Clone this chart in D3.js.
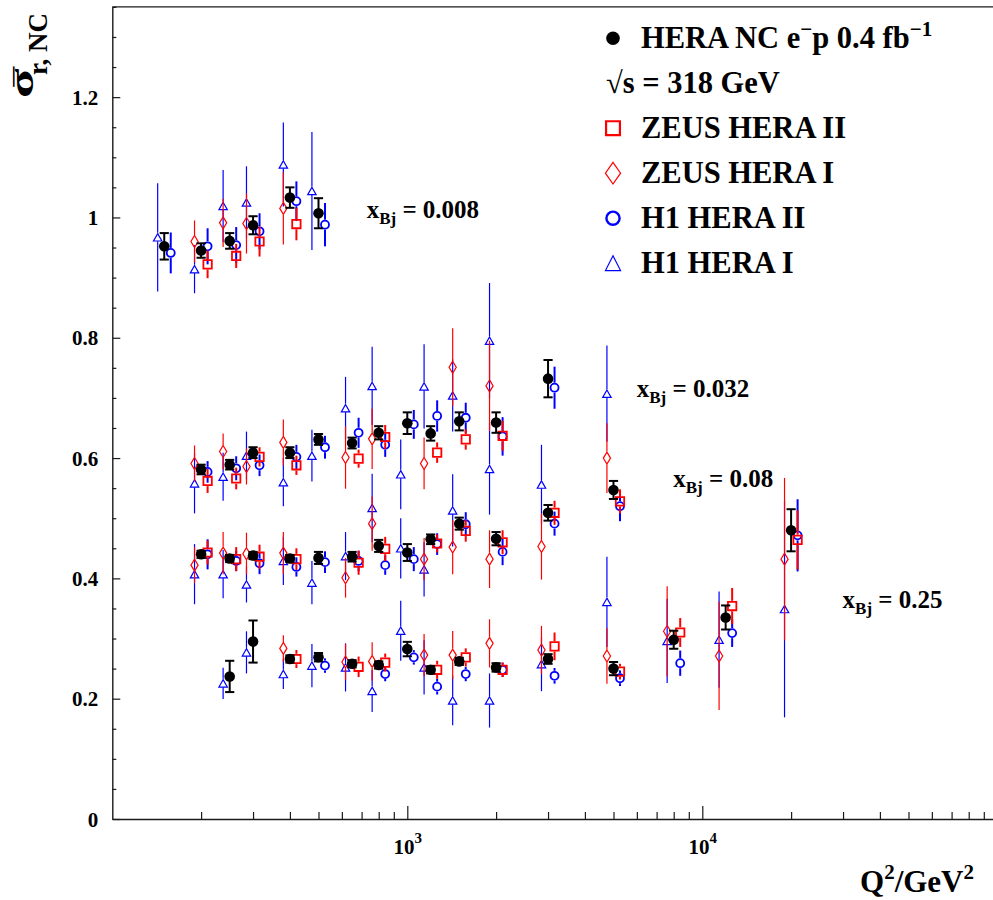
<!DOCTYPE html>
<html>
<head>
<meta charset="utf-8">
<script src="https://cdn.jsdelivr.net/npm/d3@7"></script>
<style>
  html, body { margin: 0; padding: 0; background: #fff; }
  svg { display: block; }
</style>
</head>
<body>
<svg id="chart" width="993" height="900"></svg>
<script>
// ---- data -------------------------------------------------------------
// Bjorken-x bins and the (Q², σ) anchor where each bin label is written
const xBjLabels = ["0.008", "0.032", "0.08", "0.25"];
const labelQ2 = [728, 5990, 7970, 29900];
const labelSigma = [0.999, 0.702, 0.5525, 0.350];

// rows: [xBj, Q² (GeV²), σ_r, δσ_r]
const heraCombined = [
  [0.008, 150, 0.952, 0.022], [0.008, 200, 0.945, 0.012], [0.008, 250, 0.961, 0.013],
  [0.008, 300, 0.987, 0.015], [0.008, 400, 1.033, 0.017], [0.008, 500, 1.007, 0.025],
  [0.032, 200, 0.581, 0.008], [0.032, 250, 0.589, 0.008], [0.032, 300, 0.609, 0.009],
  [0.032, 400, 0.609, 0.009], [0.032, 500, 0.631, 0.009], [0.032, 650, 0.625, 0.009],
  [0.032, 800, 0.642, 0.011], [0.032, 1000, 0.658, 0.018], [0.032, 1200, 0.641, 0.012],
  [0.032, 1500, 0.661, 0.015], [0.032, 2000, 0.659, 0.017], [0.032, 3000, 0.732, 0.031],
  [0.08, 200, 0.440, 0.006], [0.08, 250, 0.433, 0.006], [0.08, 300, 0.438, 0.006],
  [0.08, 400, 0.433, 0.006], [0.08, 500, 0.434, 0.010], [0.08, 650, 0.436, 0.008],
  [0.08, 800, 0.454, 0.010], [0.08, 1000, 0.443, 0.014], [0.08, 1200, 0.465, 0.008],
  [0.08, 1500, 0.491, 0.010], [0.08, 2000, 0.466, 0.011], [0.08, 3000, 0.509, 0.013],
  [0.08, 5000, 0.547, 0.015],
  [0.25, 250, 0.237, 0.026], [0.25, 300, 0.295, 0.035], [0.25, 400, 0.266, 0.006],
  [0.25, 500, 0.269, 0.007], [0.25, 650, 0.258, 0.006], [0.25, 800, 0.256, 0.006],
  [0.25, 1000, 0.2825, 0.012], [0.25, 1200, 0.248, 0.006], [0.25, 1500, 0.262, 0.006],
  [0.25, 2000, 0.252, 0.007], [0.25, 3000, 0.266, 0.008], [0.25, 5000, 0.250, 0.011],
  [0.25, 8000, 0.298, 0.015], [0.25, 12000, 0.335, 0.020], [0.25, 20000, 0.480, 0.035]
];

const zeusHera2 = [
  [0.008, 200, 0.922, 0.023], [0.008, 250, 0.936, 0.020], [0.008, 300, 0.960, 0.025],
  [0.008, 400, 0.989, 0.027],
  [0.032, 200, 0.562, 0.020], [0.032, 250, 0.566, 0.018], [0.032, 300, 0.602, 0.016],
  [0.032, 400, 0.588, 0.016], [0.032, 650, 0.599, 0.015], [0.032, 800, 0.635, 0.020],
  [0.032, 1200, 0.609, 0.017], [0.032, 1500, 0.631, 0.017], [0.032, 2000, 0.637, 0.025],
  [0.08, 200, 0.443, 0.020], [0.08, 250, 0.432, 0.020], [0.08, 300, 0.436, 0.020],
  [0.08, 400, 0.432, 0.018], [0.08, 650, 0.426, 0.020], [0.08, 800, 0.449, 0.020],
  [0.08, 1200, 0.458, 0.015], [0.08, 1500, 0.479, 0.018], [0.08, 2000, 0.460, 0.020],
  [0.08, 3000, 0.509, 0.020], [0.08, 5000, 0.528, 0.020],
  [0.25, 400, 0.266, 0.015], [0.25, 650, 0.253, 0.017], [0.25, 800, 0.260, 0.015],
  [0.25, 1200, 0.248, 0.015], [0.25, 1500, 0.2687, 0.015], [0.25, 2000, 0.248, 0.012],
  [0.25, 3000, 0.287, 0.023], [0.25, 5000, 0.245, 0.013], [0.25, 8000, 0.310, 0.024],
  [0.25, 12000, 0.354, 0.030], [0.25, 20000, 0.464, 0.049]
];

const zeusHera1 = [
  [0.008, 200, 0.960, 0.035], [0.008, 250, 0.991, 0.040], [0.008, 300, 0.990, 0.050],
  [0.008, 400, 1.015, 0.060],
  [0.032, 200, 0.591, 0.030], [0.032, 250, 0.611, 0.030], [0.032, 300, 0.586, 0.030],
  [0.032, 400, 0.626, 0.038], [0.032, 650, 0.601, 0.052], [0.032, 800, 0.632, 0.050],
  [0.032, 1200, 0.591, 0.043], [0.032, 1500, 0.751, 0.065], [0.032, 2000, 0.720, 0.075],
  [0.08, 200, 0.422, 0.030], [0.08, 250, 0.442, 0.035], [0.08, 300, 0.441, 0.035],
  [0.08, 400, 0.442, 0.035], [0.08, 650, 0.401, 0.033], [0.08, 800, 0.491, 0.045],
  [0.08, 1200, 0.432, 0.035], [0.08, 1500, 0.452, 0.045], [0.08, 2000, 0.432, 0.048],
  [0.08, 3000, 0.453, 0.055], [0.08, 5000, 0.600, 0.058],
  [0.25, 400, 0.2836, 0.022], [0.25, 650, 0.261, 0.030], [0.25, 800, 0.262, 0.032],
  [0.25, 1200, 0.2725, 0.035], [0.25, 1500, 0.2725, 0.040], [0.25, 2000, 0.292, 0.040],
  [0.25, 3000, 0.281, 0.040], [0.25, 5000, 0.271, 0.046], [0.25, 8000, 0.312, 0.075],
  [0.25, 12000, 0.271, 0.090], [0.25, 20000, 0.432, 0.135]
];

const h1Hera2 = [
  [0.008, 150, 0.941, 0.034], [0.008, 200, 0.952, 0.030], [0.008, 250, 0.954, 0.030],
  [0.008, 300, 0.977, 0.030], [0.008, 400, 1.027, 0.033], [0.008, 500, 0.988, 0.036],
  [0.032, 200, 0.577, 0.018], [0.032, 250, 0.583, 0.020], [0.032, 300, 0.588, 0.018],
  [0.032, 400, 0.602, 0.020], [0.032, 500, 0.618, 0.019], [0.032, 650, 0.642, 0.025],
  [0.032, 800, 0.622, 0.020], [0.032, 1000, 0.656, 0.024], [0.032, 1200, 0.670, 0.026],
  [0.032, 1500, 0.667, 0.025], [0.032, 2000, 0.636, 0.032], [0.032, 3000, 0.717, 0.035],
  [0.08, 200, 0.440, 0.025], [0.08, 250, 0.429, 0.017], [0.08, 300, 0.425, 0.018],
  [0.08, 400, 0.419, 0.016], [0.08, 500, 0.427, 0.018], [0.08, 650, 0.429, 0.017],
  [0.08, 800, 0.422, 0.016], [0.08, 1000, 0.432, 0.020], [0.08, 1200, 0.457, 0.018],
  [0.08, 1500, 0.490, 0.020], [0.08, 2000, 0.444, 0.022], [0.08, 3000, 0.491, 0.020],
  [0.08, 5000, 0.520, 0.025],
  [0.25, 500, 0.255, 0.012], [0.25, 800, 0.241, 0.012], [0.25, 1000, 0.2687, 0.012],
  [0.25, 1200, 0.220, 0.013], [0.25, 1500, 0.241, 0.012], [0.25, 2000, 0.248, 0.012],
  [0.25, 3000, 0.238, 0.013], [0.25, 5000, 0.234, 0.013], [0.25, 8000, 0.259, 0.021],
  [0.25, 12000, 0.309, 0.023], [0.25, 20000, 0.4715, 0.060]
];

const h1Hera1 = [
  [0.008, 150, 0.967, 0.090], [0.008, 200, 0.914, 0.040], [0.008, 250, 1.019, 0.060],
  [0.008, 300, 1.025, 0.060], [0.008, 400, 1.088, 0.070], [0.008, 500, 1.044, 0.098],
  [0.032, 200, 0.558, 0.050], [0.032, 250, 0.569, 0.040], [0.032, 300, 0.604, 0.040],
  [0.032, 400, 0.560, 0.040], [0.032, 500, 0.604, 0.043], [0.032, 650, 0.683, 0.052],
  [0.032, 800, 0.720, 0.065], [0.032, 1000, 0.573, 0.058], [0.032, 1200, 0.719, 0.070],
  [0.032, 1500, 0.704, 0.060], [0.032, 2000, 0.795, 0.096],
  [0.08, 200, 0.407, 0.050], [0.08, 250, 0.407, 0.040], [0.08, 300, 0.390, 0.030],
  [0.08, 400, 0.429, 0.040], [0.08, 500, 0.393, 0.036], [0.08, 650, 0.437, 0.040],
  [0.08, 800, 0.517, 0.057], [0.08, 1000, 0.450, 0.050], [0.08, 1200, 0.415, 0.045],
  [0.08, 1500, 0.513, 0.060], [0.08, 2000, 0.582, 0.076], [0.08, 3000, 0.556, 0.066],
  [0.08, 5000, 0.707, 0.080],
  [0.25, 250, 0.2255, 0.026], [0.25, 300, 0.277, 0.035], [0.25, 400, 0.241, 0.025],
  [0.25, 500, 0.255, 0.036], [0.25, 650, 0.252, 0.040], [0.25, 800, 0.213, 0.035],
  [0.25, 1000, 0.313, 0.050], [0.25, 1200, 0.252, 0.045], [0.25, 1500, 0.197, 0.041],
  [0.25, 2000, 0.197, 0.045], [0.25, 3000, 0.2575, 0.045], [0.25, 5000, 0.361, 0.075],
  [0.25, 8000, 0.296, 0.070], [0.25, 12000, 0.298, 0.080], [0.25, 20000, 0.349, 0.180]
];

// axis ticks
const yMajorTicks = [0, 0.2, 0.4, 0.6, 0.8, 1, 1.2];
const yTickLabels = ["0", "0.2", "0.4", "0.6", "0.8", "1", "1.2"];
const xLabelPowers = [3, 4];

// ---- layout / style ---------------------------------------------------
const FONT = '"Liberation Serif", "Times New Roman", Times, serif';
const RED = "#ff0000", BLUE = "#0000ff", BLACK = "#000000";
const SHIFT_I = 0.95, SHIFT_II = 1.052;   // horizontal displacement of the single-experiment points

const svg = d3.select("#chart");
svg.append("rect").attr("width", 993).attr("height", 900).attr("fill", "#fff");

const x = d3.scaleLog().domain([100, 1e5]).range([112.3, 997.3]);
const y = d3.scaleLinear().domain([0, 1.35]).range([819, 6.9]);

// ---- frame & axes -----------------------------------------------------
const frame = svg.append("g").attr("stroke", "#1a1a1a").attr("stroke-width", 1.4);
frame.append("line").attr("x1", x.range()[0]).attr("x2", x.range()[1]).attr("y1", y.range()[1]).attr("y2", y.range()[1]);

// y axis: minor ticks every 0.05, major every 0.2
const yMinor = d3.range(0, 1.3501, 0.05).map(v => +v.toFixed(2)).filter(v => !yMajorTicks.includes(v));
svg.append("g").attr("transform", `translate(${x.range()[0]},0)`)
  .call(d3.axisLeft(y).tickValues(yMinor).tickSizeInner(-4).tickSizeOuter(0).tickFormat(""))
  .call(g => g.select(".domain").remove())
  .call(g => g.selectAll(".tick line").attr("stroke", "#1a1a1a").attr("stroke-width", 1.2));

const yAxisG = svg.append("g").attr("transform", `translate(${x.range()[0]},0)`)
  .call(d3.axisLeft(y).tickValues(yMajorTicks).tickSizeInner(-8).tickSizeOuter(0).tickPadding(14)
        .tickFormat((d, i) => yTickLabels[i]));
yAxisG.select(".domain").attr("stroke", "#1a1a1a").attr("stroke-width", 1.4);
yAxisG.selectAll(".tick line").attr("stroke", "#1a1a1a").attr("stroke-width", 1.2);
yAxisG.selectAll(".tick text").attr("font-family", FONT).attr("font-weight", "bold")
  .attr("font-size", 21).attr("fill", BLACK).attr("dy", "0.34em");

// x axis: logarithmic, minor ticks at 2..9 × 10^k
const xMinor = [];
[100, 1000, 10000].forEach(b => { for (let m = 2; m <= 9; m++) xMinor.push(b * m); });
svg.append("g").attr("transform", `translate(0,${y.range()[0]})`)
  .call(d3.axisBottom(x).tickValues(xMinor).tickSizeInner(-7).tickSizeOuter(0).tickFormat(""))
  .call(g => g.select(".domain").remove())
  .call(g => g.selectAll(".tick line").attr("stroke", "#1a1a1a").attr("stroke-width", 1.2));

const xAxisG = svg.append("g").attr("transform", `translate(0,${y.range()[0]})`)
  .call(d3.axisBottom(x).tickValues(xLabelPowers.map(p => Math.pow(10, p)))
        .tickSizeInner(-13).tickSizeOuter(0).tickFormat(""));
xAxisG.select(".domain").attr("stroke", "#1a1a1a").attr("stroke-width", 1.4);
xAxisG.selectAll(".tick line").attr("stroke", "#1a1a1a").attr("stroke-width", 1.2);
xAxisG.selectAll(".tick").each(function(d, i) {
  const t = d3.select(this).append("text")
    .attr("font-family", FONT).attr("font-weight", "bold").attr("fill", BLACK)
    .attr("text-anchor", "middle").attr("y", 35).attr("font-size", 21);
  t.append("tspan").text("10");
  t.append("tspan").attr("font-size", 15).attr("dy", -11).text(String(xLabelPowers[i]));
});

// ---- axis titles ------------------------------------------------------
// vertical title σ⁻ with subscript "r, NC", read bottom to top
const yTitle = svg.append("g").attr("transform", "translate(33,98) rotate(-90)")
  .attr("font-family", FONT).attr("font-weight", "bold").attr("fill", BLACK);
yTitle.append("text").attr("transform", "scale(1.6,1)").attr("x", 0).attr("y", 0)
  .attr("font-size", 34).text("σ");
yTitle.append("text").attr("transform", "translate(9,-12.5) scale(2,1)").attr("x", 0).attr("y", 0)
  .attr("font-size", 22).text("−");
yTitle.append("text").attr("x", 23).attr("y", 14).attr("font-size", 27).text("r, NC");

const xTitle = svg.append("text").attr("x", 860).attr("y", 892)
  .attr("font-family", FONT).attr("font-weight", "bold").attr("font-size", 31).attr("fill", BLACK);
xTitle.append("tspan").text("Q");
xTitle.append("tspan").attr("font-size", 21).attr("dy", -13).text("2");
xTitle.append("tspan").attr("dy", 13).text("/GeV");
xTitle.append("tspan").attr("font-size", 21).attr("dy", -13).text("2");

// ---- marker shapes ----------------------------------------------------
function squarePath(s) { const h = s / 2; return `M${-h},${-h}H${h}V${h}H${-h}Z`; }
function diamondPath(w, h) { return `M0,${-h / 2}L${w / 2},0L0,${h / 2}L${-w / 2},0Z`; }
function trianglePath(w, h) { return `M0,${-h / 2}L${w / 2},${h / 2}L${-w / 2},${h / 2}Z`; }

const styles = {
  h1I:   { color: BLUE, lw: 1.2, shape: "triangle", gapTop: 4.5, gapBot: 4.0, shift: SHIFT_I },
  zeusI: { color: RED,  lw: 1.2, shape: "diamond",  gapTop: 6.5, gapBot: 6.5, shift: SHIFT_I },
  h1II:  { color: BLUE, lw: 2.0, shape: "circle",   gapTop: 5.0, gapBot: 5.0, shift: SHIFT_II },
  zeusII:{ color: RED,  lw: 2.0, shape: "square",   gapTop: 5.2, gapBot: 5.2, shift: SHIFT_II },
  comb:  { color: BLACK,lw: 2.0, shape: "dot",      gapTop: 0,   gapBot: 0,   shift: 1 }
};

function drawMarker(g, shape, color, big) {
  const k = big ? 1.65 : 1;
  if (shape === "dot") {
    g.append("circle").attr("r", big ? 6.8 : 5.3).attr("fill", color);
  } else if (shape === "circle") {
    g.append("circle").attr("r", 4.0 * k).attr("fill", "none").attr("stroke", color).attr("stroke-width", big ? 2.4 : 1.8);
  } else if (shape === "square") {
    g.append("path").attr("d", squarePath(8.4 * k)).attr("fill", "none").attr("stroke", color).attr("stroke-width", big ? 2.2 : 1.8);
  } else if (shape === "diamond") {
    g.append("path").attr("d", diamondPath(7.2 * (big ? 2.1 : 1), 12 * (big ? 1.8 : 1))).attr("fill", "none").attr("stroke", color).attr("stroke-width", 1.2);
  } else if (shape === "triangle") {
    g.append("path").attr("d", trianglePath(8.4 * (big ? 1.8 : 1), 7.4 * (big ? 2.0 : 1))).attr("fill", "none").attr("stroke", color).attr("stroke-width", 1.2);
  }
}

function drawSeries(rows, st, capped) {
  const layer = svg.append("g");
  const pts = layer.selectAll("g.pt").data(rows).join("g").attr("class", "pt");
  pts.each(function(d) {
    const [, q2, v, e] = d;
    const cx = x(q2 * st.shift), cy = y(v), yTop = y(v + e), yBot = y(v - e);
    const g = d3.select(this);
    if (capped) {
      g.append("line").attr("x1", cx).attr("x2", cx).attr("y1", yTop).attr("y2", yBot)
        .attr("stroke", st.color).attr("stroke-width", st.lw);
      [yTop, yBot].forEach(yy => g.append("line").attr("x1", cx - 4.6).attr("x2", cx + 4.6)
        .attr("y1", yy).attr("y2", yy).attr("stroke", st.color).attr("stroke-width", st.lw));
    } else {
      if (cy - st.gapTop > yTop)
        g.append("line").attr("x1", cx).attr("x2", cx).attr("y1", yTop).attr("y2", cy - st.gapTop)
          .attr("stroke", st.color).attr("stroke-width", st.lw);
      if (cy + st.gapBot < yBot)
        g.append("line").attr("x1", cx).attr("x2", cx).attr("y1", cy + st.gapBot).attr("y2", yBot)
          .attr("stroke", st.color).attr("stroke-width", st.lw);
    }
    const m = g.append("g").attr("transform", `translate(${cx},${cy})`);
    drawMarker(m, st.shape, st.color, false);
  });
}

drawSeries(h1Hera1, styles.h1I, false);
drawSeries(zeusHera1, styles.zeusI, false);
drawSeries(h1Hera2, styles.h1II, false);
drawSeries(zeusHera2, styles.zeusII, false);
drawSeries(heraCombined, styles.comb, true);

// ---- x_Bj bin labels --------------------------------------------------
xBjLabels.forEach((lab, i) => {
  const t = svg.append("text").attr("x", x(labelQ2[i])).attr("y", y(labelSigma[i]))
    .attr("font-family", FONT).attr("font-weight", "bold").attr("font-size", 25).attr("fill", BLACK);
  t.append("tspan").text("x");
  t.append("tspan").attr("font-size", 17).attr("dy", 6).text("Bj");
  t.append("tspan").attr("dy", -6).text(" = " + lab);
});

// ---- legend -----------------------------------------------------------
const legendRows = [
  { shape: "dot", color: BLACK, parts: [["HERA NC e", 0], ["−", 1], ["p 0.4 fb", 0], ["−1", 1]] },
  { shape: null, color: BLACK, parts: [["√s = 318 GeV", 0]] },
  { shape: "square", color: RED, parts: [["ZEUS HERA II", 0]] },
  { shape: "diamond", color: RED, parts: [["ZEUS HERA I", 0]] },
  { shape: "circle", color: BLUE, parts: [["H1 HERA II", 0]] },
  { shape: "triangle", color: BLUE, parts: [["H1 HERA I", 0]] }
];
const legend = svg.append("g");
legendRows.forEach((row, i) => {
  const base = 47.7 + 45 * i;
  if (row.shape) {
    const m = legend.append("g").attr("transform", `translate(613,${base - 9.5})`);
    drawMarker(m, row.shape, row.color, true);
  }
  const t = legend.append("text").attr("x", row.shape ? 641 : 606).attr("y", base)
    .attr("font-family", FONT).attr("font-weight", "bold").attr("font-size", 30.5).attr("fill", BLACK);
  let raised = false;
  row.parts.forEach(([s, sup]) => {
    const ts = t.append("tspan").text(s);
    if (sup && !raised) { ts.attr("font-size", 21).attr("dy", -12); raised = true; }
    else if (!sup && raised) { ts.attr("dy", 12); raised = false; }
  });
});
</script>
</body>
</html>
